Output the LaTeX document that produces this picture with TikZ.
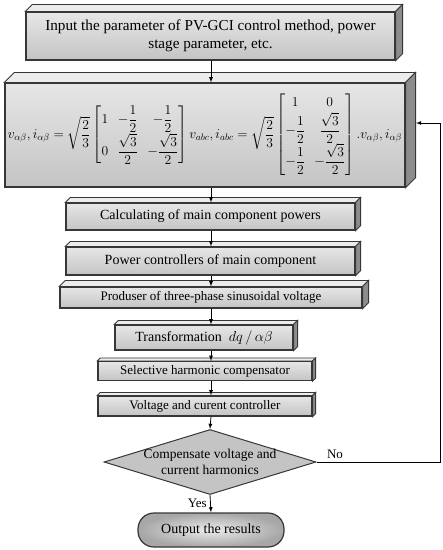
\documentclass[tikz,border=0pt]{standalone}
\usepackage{amsmath}
\usepackage{graphicx}
\usepackage{fontspec}
\setmainfont{Liberation Serif}
\usetikzlibrary{arrows, shapes.geometric, calc}
\definecolor{slabfront}{RGB}{214, 214, 214}
\definecolor{slabface}{RGB}{196, 196, 196}
\definecolor{slabtop}{RGB}{236, 236, 236}
\definecolor{slabside}{RGB}{140, 140, 140}
\definecolor{slabedge}{RGB}{55, 55, 55}
\tikzset{
  slab/.style={draw=slabedge, line width=1.2pt, top color=slabfront!60!white, bottom color=slabface,
    align=center, inner sep=1pt},
  decision/.style={diamond, draw=slabedge, line width=1pt, fill=slabface, inner sep=0pt},
  terminal/.style={rounded corners=16pt, draw=slabedge, line width=1.2pt, inner color=slabtop, outer color=slabface!85!black},
  flow/.style={->, line width=0.8pt},
}
% top and right faces of a slab
\newcommand{\slabfaces}[2]{%
  \filldraw[slabtop, draw=slabedge, line width=0.8pt] (#1.north west) -- ++(#2,-#2) -- ($(#1.north east)+(#2,-#2)$) -- (#1.north east) -- cycle;
  \filldraw[slabside, draw=slabedge, line width=0.8pt] (#1.north east) -- ++(#2,-#2) -- ($(#1.south east)+(#2,-#2)$) -- (#1.south east) -- cycle;
}

\begin{document}
\begin{tikzpicture}[x=1pt, y=-1pt, >=latex, font=\fontsize{14}{16.5}\selectfont]
  \useasboundingbox (0,0) rectangle (443,550);
  \coordinate (axis) at (211,0);

  \node[slab, minimum width=369pt, minimum height=48pt, font=\fontsize{15.2}{17.5}\selectfont] (input) at (210.5,36)
       {Input the parameter of PV-GCI control method, power\\stage parameter, etc.};
  \node[slab, minimum width=400pt, minimum height=104pt] (clarke) at (205,135)
       {\resizebox{394pt}{!}{$v_{\alpha\beta}, i_{\alpha\beta}=\sqrt{\dfrac{2}{3}}
         \begin{bmatrix} 1 & -\dfrac{1}{2} & -\dfrac{1}{2}\\[6pt] 0 & \dfrac{\sqrt{3}}{2} & -\dfrac{\sqrt{3}}{2}\end{bmatrix}
         v_{abc}, i_{abc}=\sqrt{\dfrac{2}{3}}
         \begin{bmatrix} 1 & 0\\[2pt] -\dfrac{1}{2} & \dfrac{\sqrt{3}}{2}\\[4pt] -\dfrac{1}{2} & -\dfrac{\sqrt{3}}{2}\end{bmatrix}
         .v_{\alpha\beta}, i_{\alpha\beta}$}};
  \node[slab, minimum width=289pt, minimum height=27pt] (power) at (210.5,216.5) {Calculating of main component powers};
  \node[slab, minimum width=289pt, minimum height=28pt] (pctrl) at (210.5,261) {Power controllers of main component};
  \node[slab, minimum width=302pt, minimum height=21pt, font=\fontsize{13}{15}\selectfont] (sine) at (211,297.5) {Produser of three-phase sinusoidal voltage};
  \node[slab, minimum width=178pt, minimum height=25pt] (trans) at (204,337.5) {Transformation \ $dq\,/\,\alpha\beta$};
  \node[slab, minimum width=214pt, minimum height=19pt, font=\fontsize{13}{15}\selectfont] (shc) at (205,371) {Selective harmonic compensator};
  \node[slab, minimum width=214pt, minimum height=20pt, font=\fontsize{13}{15}\selectfont] (vcc) at (205,406) {Voltage and curent controller};
  \node[decision, minimum width=212pt, minimum height=65pt,
        label={[align=center, font=\fontsize{13.5}{16}\selectfont]center:Compensate voltage and\\current harmonics}] (check) at (210,462) {};
  \node[terminal, minimum width=146pt, minimum height=34pt] (output) at (211,530) {Output the results};

  \slabfaces{input}{7}
  \slabfaces{clarke}{10}
  \slabfaces{power}{5}
  \slabfaces{pctrl}{5}
  \slabfaces{sine}{6}
  \slabfaces{trans}{4}
  \slabfaces{shc}{3}
  \slabfaces{vcc}{3}

  % connectors
  \draw[flow] (input.south -| axis) -- (clarke.north -| axis);
  \draw[flow] (clarke.south -| axis) -- (power.north -| axis);
  \draw[flow] (power.south -| axis) -- (pctrl.north -| axis);
  \draw[flow] (pctrl.south -| axis) -- (sine.north -| axis);
  \draw[flow] (sine.south -| axis) -- (trans.north -| axis);
  \draw[flow] (trans.south -| axis) -- (shc.north -| axis);
  \draw[flow] (shc.south -| axis) -- (vcc.north -| axis);
  \draw[flow] (vcc.south -| axis) -- (check.north);
  \draw[flow] (check.south) -- node[left, pos=0.45, font=\fontsize{13}{15}\selectfont] {Yes} (output.north);
  \coordinate (loop) at (440,462);
  \coordinate (back) at (416,123);
  \draw[flow] (check.east) -- node[above, pos=0.15, font=\fontsize{13}{15}\selectfont] {No} (loop) |- (back);
\end{tikzpicture}
\end{document}
